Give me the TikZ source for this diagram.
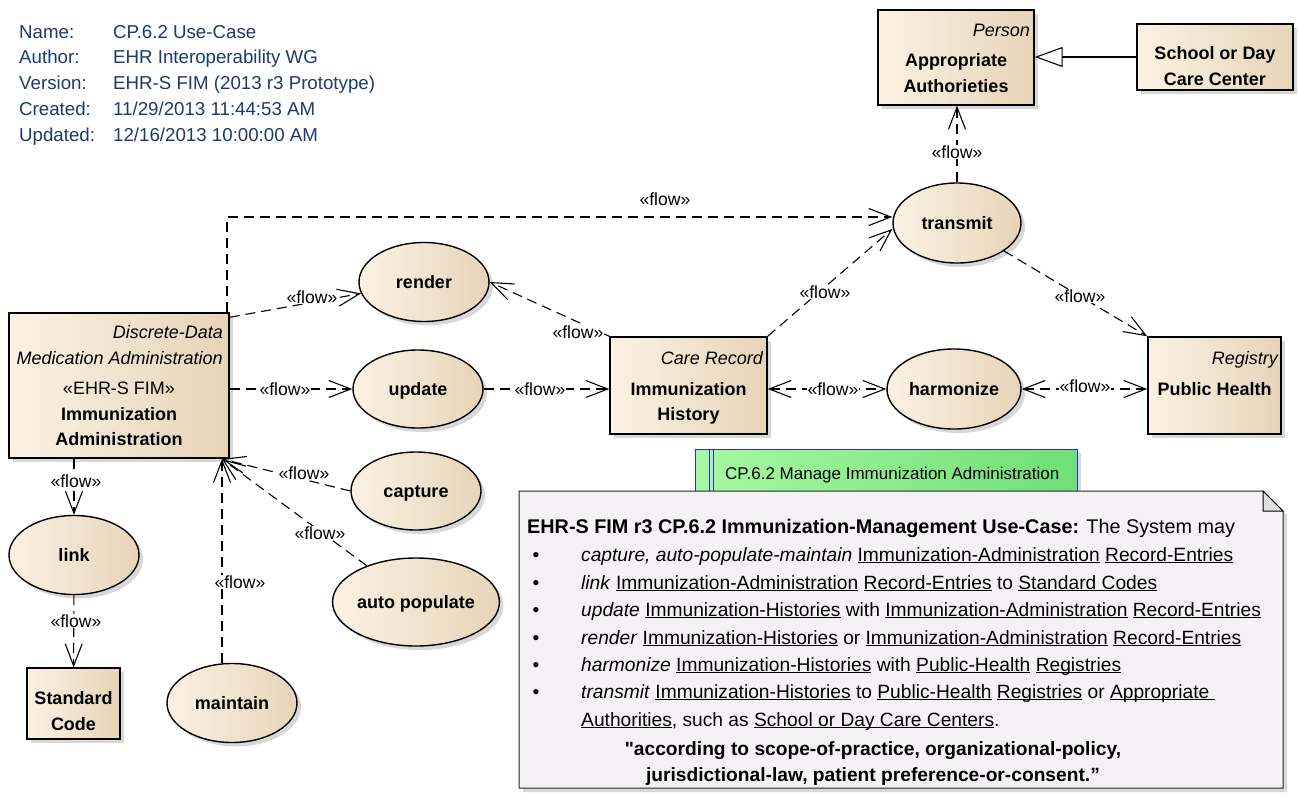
\documentclass[tikz,border=0pt]{standalone}
\usepackage{fontspec}
\setmainfont{Liberation Sans}
\usetikzlibrary{arrows.meta,shadows,shapes.geometric}

\definecolor{hdr}{RGB}{30,58,108}
\definecolor{ucL}{RGB}{251,242,228}
\definecolor{ucR}{RGB}{230,212,184}
\definecolor{pkgL}{RGB}{168,248,162}
\definecolor{pkgR}{RGB}{112,222,118}
\definecolor{pkgB}{RGB}{40,40,235}
\definecolor{noteF}{RGB}{245,242,245}

% underline with a fixed distance below the baseline
\newcommand\uw[1]{\underline{\smash{#1}}}
% a straight double quote, untouched by the TeX input mapping
\newcommand\straightquote{{\addfontfeature{Ligatures=TeXOff}"}}

\begin{document}
\begin{tikzpicture}[x=1pt,y=-1pt,
  every node/.style={font=\fontsize{18}{22}\selectfont},
  gradfill/.style={left color=ucL, right color=ucR},
  softshadow/.style={drop shadow={shadow xshift=4pt, shadow yshift=-4pt, fill=black!30}},
  elbox/.style={draw, line width=1.4pt, gradfill, inner sep=0pt, softshadow},
  classbox/.style={elbox, rectangle},
  usecase/.style={elbox, ellipse, font=\bfseries\fontsize{18}{22}\selectfont, text height=12pt, text depth=0pt},
  nm/.style={anchor=base, font=\bfseries\fontsize{18}{22}\selectfont, inner sep=0pt},
  st/.style={anchor=base east, font=\itshape\fontsize{18}{22}\selectfont, inner sep=0pt},
  >={Straight Barb[length=22pt,width=17pt]},
  flow/.style={dash pattern=on 10pt off 6pt, line width=1.1pt, ->},
  flowlbl/.style={fill=white, inner sep=1pt, font=\fontsize{17.6}{20}\selectfont},
  hdrtxt/.style={anchor=base west, inner sep=0pt, text=hdr, font=\fontsize{18.7}{22}\selectfont},
  notetxt/.style={anchor=base west, inner sep=0pt, font=\fontsize{19.2}{22}\selectfont},
  bul/.style={anchor=base, inner sep=0pt, font=\fontsize{19.2}{22}\selectfont},
]
\fill[white] (0,0) rectangle (1299,798);
\useasboundingbox (0,0) rectangle (1299,798);

% ---- diagram properties ----
\node[hdrtxt] (h1a) at (19,38)  {Name:};
\node[hdrtxt] (h1b) at (113,38) {CP.6.2 Use-Case};
\node[hdrtxt] (h2a) at (19,63)  {Author:};
\node[hdrtxt] (h2b) at (113,63) {EHR Interoperability WG};
\node[hdrtxt] (h3a) at (19,89)  {Version:};
\node[hdrtxt] (h3b) at (113,89) {EHR-S FIM (2013 r3 Prototype)};
\node[hdrtxt] (h4a) at (19,115) {Created:};
\node[hdrtxt] (h4b) at (113,115) {11/29/2013 11:44:53 AM};
\node[hdrtxt] (h5a) at (19,141) {Updated:};
\node[hdrtxt] (h5b) at (113,141) {12/16/2013 10:00:00 AM};

% ---- classes ----
\node[classbox, minimum width=156pt, minimum height=95pt] (auth) at (956,57.5) {};
\node[st] (authS) at (1030,36) {Person};
\node[nm] (authN1) at (956,66) {Appropriate};
\node[nm] (authN2) at (956,92) {Authorieties};

\node[classbox, minimum width=156pt, minimum height=66pt] (school) at (1215,57) {};
\node[nm] (schoolN1) at (1215,59) {School or Day};
\node[nm] (schoolN2) at (1215,85) {Care Center};

\node[classbox, minimum width=220pt, minimum height=145pt] (ia) at (119,385.5) {};
\node[st] (iaS1) at (223,338) {Discrete-Data};
\node[st] (iaS2) at (223,364) {Medication Administration};
\node[anchor=base, inner sep=0pt] (iaS3) at (119,394) {«EHR-S FIM»};
\node[nm] (iaN1) at (119,420) {Immunization};
\node[nm] (iaN2) at (119,445) {Administration};

\node[classbox, minimum width=157pt, minimum height=97pt] (ih) at (688.5,385.5) {};
\node[st] (ihS) at (763,364) {Care Record};
\node[nm] (ihN1) at (688.5,395) {Immunization};
\node[nm] (ihN2) at (688.5,420) {History};

\node[classbox, minimum width=133pt, minimum height=97pt] (ph) at (1214.5,385.5) {};
\node[st] (phS) at (1278,364) {Registry};
\node[nm] (phN) at (1214.5,395) {Public Health};

\node[classbox, minimum width=93pt, minimum height=71pt] (std) at (73.5,703.5) {};
\node[nm] (stdN1) at (73.5,704) {Standard};
\node[nm] (stdN2) at (73.5,730) {Code};

% ---- use cases ----
\node[usecase, minimum width=128pt, minimum height=80pt] (transmit) at (957,223) {transmit};
\node[usecase, minimum width=130pt, minimum height=79pt] (render) at (424,282) {render};
\node[usecase, minimum width=130pt, minimum height=78pt] (update) at (418,389) {update};
\node[usecase, minimum width=130pt, minimum height=78pt] (capture) at (416,491) {capture};
\node[usecase, minimum width=150pt, minimum height=88pt] (autopop) at (416,602) {auto populate};
\node[usecase, minimum width=130pt, minimum height=79pt] (maintain) at (232,703) {maintain};
\node[usecase, minimum width=130pt, minimum height=79pt] (link) at (74,555) {link};
\node[usecase, minimum width=134pt, minimum height=80pt] (harm) at (954,389) {harmonize};

% ---- generalization ----
\draw[line width=1.1pt, -{Triangle[open, length=28pt, width=20pt, fill=white]}]
  (school.west) -- (auth.east |- school.west);

% ---- information flows ----
\coordinate (bend) at (227,217);
\coordinate (hub) at (222,459);

\draw[flow] (ia.north -| bend) -- (bend) -- (transmit.west |- bend);
\draw[flow] ([yshift=-5pt]ia.north east) -- (render);
\draw[flow] (ih.north west) -- (render.east);
\draw[flow] (ia.east |- update) -- (update);
\draw[flow] (update) -- (ih.west |- update);
\draw[flow, <->] (ih.east |- harm) -- (harm);
\draw[flow, <->] (harm) -- (ph.west |- harm);
\draw[flow] (ih.north east) -- ([yshift=-6pt]transmit.west);
\draw[flow] (transmit) -- (ph.north west);
\draw[flow] (transmit.north) -- (transmit.north |- auth.south);
\draw[flow] (capture.west) -- (hub);
\draw[flow] (autopop) -- (hub);
\draw[flow] (maintain.north -| hub) -- (hub);
\draw[flow] (ia.south -| link) -- (link);
\draw[flow] (link) -- (std);

\node[flowlbl] (f1)  at (665,199) {«flow»};
\node[flowlbl] (f2)  at (312,297) {«flow»};
\node[flowlbl] (f3)  at (578,332) {«flow»};
\node[flowlbl] (f4)  at (285,389) {«flow»};
\node[flowlbl] (f5)  at (540,389) {«flow»};
\node[flowlbl] (f6)  at (833,389) {«flow»};
\node[flowlbl] (f7)  at (1085,386) {«flow»};
\node[flowlbl] (f8)  at (825,292) {«flow»};
\node[flowlbl] (f9)  at (1080,296) {«flow»};
\node[flowlbl] (f10) at (957,152) {«flow»};
\node[flowlbl] (f11) at (304,473) {«flow»};
\node[flowlbl] (f12) at (320,533) {«flow»};
\node[flowlbl] (f13) at (240,582) {«flow»};
\node[flowlbl] (f14) at (76,481) {«flow»};
\node[flowlbl] (f15) at (76,621) {«flow»};

% ---- requirement package ----
\node[draw=pkgB, line width=1pt, left color=pkgL, right color=pkgR, rectangle,
      minimum width=382pt, minimum height=42pt, inner sep=0pt, softshadow] (pkg) at (886,470) {};
\draw[pkgB, line width=0.8pt] ([xshift=15pt]pkg.north west) -- ([xshift=15pt]pkg.south west);
\draw[pkgB, line width=0.8pt] ([xshift=19pt]pkg.north west) -- ([xshift=19pt]pkg.south west);
\node[anchor=base west, inner sep=0pt, font=\fontsize{17}{20}\selectfont] (pkgT) at (725,479)
  {CP.6.2 Manage Immunization Administration};

% ---- note ----
\path[fill=noteF, draw=black!85, line width=1pt, softshadow]
  (519,491) -- (1263,491) -- (1283,511) -- (1283,788) -- (519,788) -- cycle;
\draw[fill=black!12, line width=1pt] (1263,491) -- (1263,511) -- (1283,511) -- cycle;

\node[notetxt] (n0) at (527,533)
  {\fontsize{19.8}{22}\selectfont\textbf{EHR-S FIM r3 CP.6.2 Immunization-Management Use-Case:} The System may};
\node[bul] (b1) at (536,561) {•};
\node[notetxt] (n1) at (581,561)
  {\textit{capture, auto-populate-maintain} \uw{Immunization-Administration} \uw{Record-Entries}};
\node[bul] (b2) at (536,589) {•};
\node[notetxt] (n2) at (581,589)
  {\textit{link} \uw{Immunization-Administration} \uw{Record-Entries} to \uw{Standard Codes}};
\node[bul] (b3) at (536,616) {•};
\node[notetxt] (n3) at (581,616)
  {\textit{update} \uw{Immunization-Histories} with \uw{Immunization-Administration} \uw{Record-Entries}};
\node[bul] (b4) at (536,644) {•};
\node[notetxt] (n4) at (581,644)
  {\textit{render} \uw{Immunization-Histories} or \uw{Immunization-Administration} \uw{Record-Entries}};
\node[bul] (b5) at (536,671) {•};
\node[notetxt] (n5) at (581,671)
  {\textit{harmonize} \uw{Immunization-Histories} with \uw{Public-Health} \uw{Registries}};
\node[bul] (b6) at (536,698) {•};
\node[notetxt] (n6) at (581,698)
  {\textit{transmit} \uw{Immunization-Histories} to \uw{Public-Health} \uw{Registries} or \uw{Appropriate\ }};
\node[notetxt] (n7) at (581,726)
  {\uw{Authorities}, such as \uw{School or Day Care Centers}.};
\node[bul, font=\bfseries\fontsize{19.2}{22}\selectfont] (q1) at (873,755)
  {\straightquote according to scope-of-practice, organizational-policy,};
\node[bul, font=\bfseries\fontsize{19.2}{22}\selectfont] (q2) at (873,781)
  {jurisdictional-law, patient preference-or-consent.”};
\end{tikzpicture}
\end{document}
